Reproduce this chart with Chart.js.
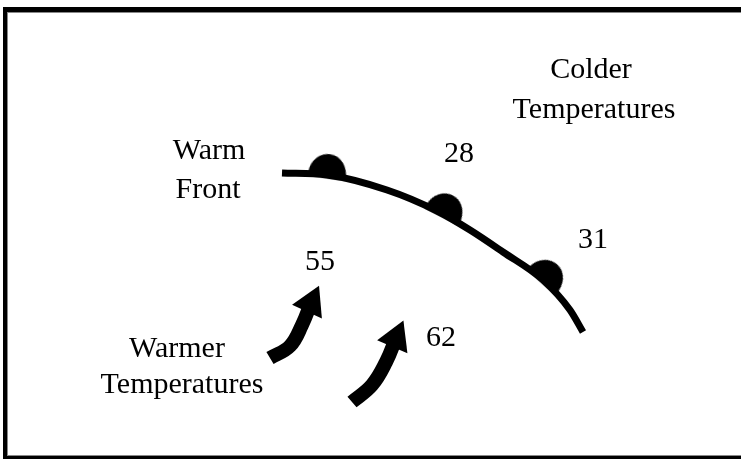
<!DOCTYPE html>
<html>
<head>
<meta charset="utf-8">
<script src="https://cdn.jsdelivr.net/npm/chart.js@4/dist/chart.umd.min.js"></script>
<style>
  html, body { margin: 0; padding: 0; background: #fff; }
  #wrap { width: 741px; height: 460px; position: relative; }
</style>
</head>
<body>
<div id="wrap"><canvas id="c" width="741" height="460"></canvas></div>
<script>
// ---- Data (diagram coordinates) ----
const frontX = [282, 327, 387, 437, 470, 503, 543, 570, 583];
const frontY = [173, 175, 190, 211, 230, 252, 280, 310, 332];

const bumpX = [327, 443, 543];
const bumpY = [175, 214, 280];
const bumpAngle = [8, 27, 42];

const arrow1X = [270, 290, 302, 311];
const arrow1Y = [358, 346, 325, 303];
const arrow1Angle = 25;

const arrow2X = [352, 372, 386, 396];
const arrow2Y = [402, 385, 362, 338];
const arrow2Angle = 23;

const tempLabels = ['28', '31', '55', '62'];
const tempX = [459, 593, 320, 441];
const tempY = [162, 248, 270, 346];

const regionLabels = ['Colder', 'Temperatures', 'Warm', 'Front', 'Warmer', 'Temperatures'];
const regionX = [591, 594, 209, 208, 177, 182];
const regionY = [78, 118, 159, 198, 357, 393];

// ---- helpers ----
function pts(xs, ys) { return xs.map((x, i) => ({ x: x, y: ys[i] })); }

const bumpImg = document.createElement('canvas');
bumpImg.width = 44; bumpImg.height = 48;
(function () {
  const g = bumpImg.getContext('2d');
  g.fillStyle = '#000';
  g.beginPath();
  g.ellipse(22, 24, 19, 21, 0, Math.PI - 0.15, 2 * Math.PI + 0.15);
  g.closePath();
  g.fill();
})();

const labelPlugin = {
  id: 'labels',
  afterDatasetsDraw(chart) {
    const ctx = chart.ctx;
    const xs = chart.scales.x, ys = chart.scales.y;
    ctx.save();
    ctx.fillStyle = '#000';
    ctx.font = '30px "Liberation Serif", "Times New Roman", serif';
    ctx.textAlign = 'center';
    ctx.textBaseline = 'alphabetic';
    tempLabels.forEach((t, i) => ctx.fillText(t, xs.getPixelForValue(tempX[i]), ys.getPixelForValue(tempY[i])));
    regionLabels.forEach((t, i) => ctx.fillText(t, xs.getPixelForValue(regionX[i]), ys.getPixelForValue(regionY[i])));
    ctx.restore();
  }
};

const framePlugin = {
  id: 'frame',
  afterDraw(chart) {
    const ctx = chart.ctx;
    ctx.save();
    ctx.fillStyle = '#000';
    ctx.fillRect(3, 7, 738, 5);
    ctx.fillRect(3, 7, 4, 452);
    ctx.fillRect(3, 456, 738, 3);
    ctx.fillStyle = '#888';
    ctx.fillRect(7, 12, 734, 1);
    ctx.fillRect(7, 12, 1, 444);
    ctx.fillRect(7, 455, 734, 1);
    ctx.restore();
  }
};

function arrowDataset(xs, ys, angle) {
  const n = xs.length;
  return {
    type: 'line',
    data: pts(xs, ys),
    borderColor: '#000',
    backgroundColor: '#000',
    borderWidth: 14,
    borderCapStyle: 'butt',
    tension: 0.4,
    pointStyle: 'triangle',
    pointRadius: xs.map((_, i) => i === n - 1 ? 19 : 0),
    pointRotation: angle,
    pointBorderWidth: 0,
    pointBackgroundColor: '#000',
    clip: false
  };
}

new Chart(document.getElementById('c'), {
  type: 'scatter',
  data: {
    datasets: [
      {
        type: 'line',
        data: pts(frontX, frontY),
        borderColor: '#000',
        borderWidth: 7,
        cubicInterpolationMode: 'monotone',
        pointRadius: 0,
        fill: false,
        clip: false
      },
      {
        type: 'scatter',
        data: pts(bumpX, bumpY),
        pointStyle: bumpImg,
        pointRadius: 10,
        pointRotation: bumpAngle,
        showLine: false,
        clip: false
      },
      arrowDataset(arrow1X, arrow1Y, arrow1Angle),
      arrowDataset(arrow2X, arrow2Y, arrow2Angle)
    ]
  },
  options: {
    responsive: false,
    animation: false,
    events: [],
    layout: { padding: 0, autoPadding: false },
    plugins: { legend: { display: false }, tooltip: { enabled: false } },
    scales: {
      x: { type: 'linear', min: 0, max: 741, display: false },
      y: { type: 'linear', min: 0, max: 460, reverse: true, display: false }
    }
  },
  plugins: [labelPlugin, framePlugin]
});
</script>
</body>
</html>
